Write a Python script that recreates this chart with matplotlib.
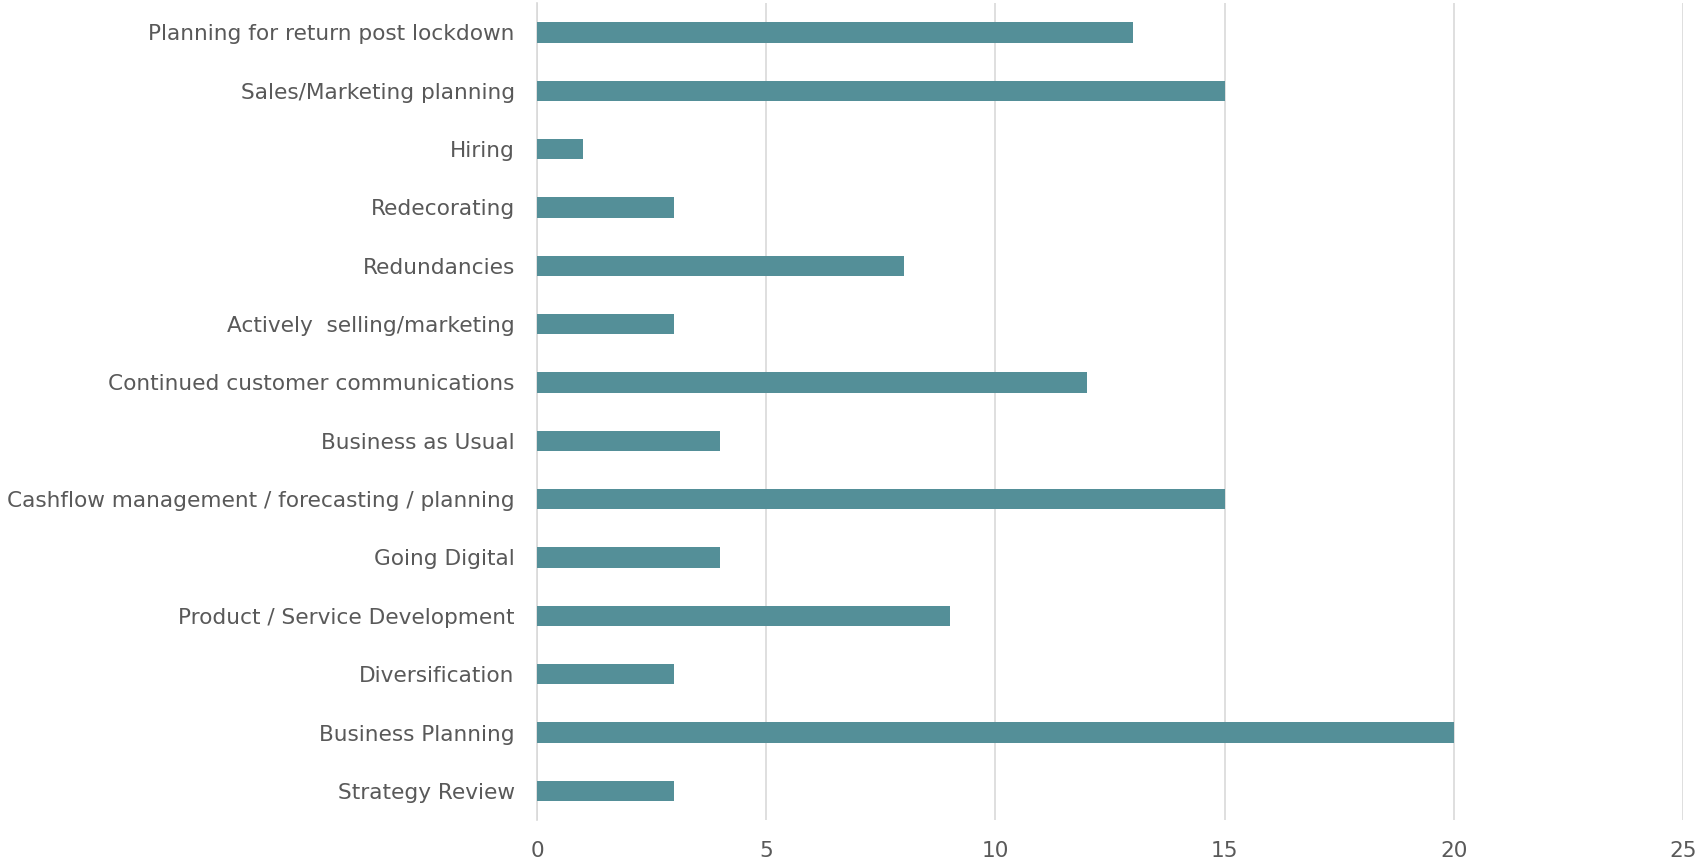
import matplotlib
matplotlib.use('Agg')
import matplotlib.pyplot as plt

# categories from bottom to top, as matplotlib draws barh upwards
categories = [
    'Strategy Review',
    'Business Planning',
    'Diversification',
    'Product / Service Development',
    'Going Digital',
    'Cashflow management / forecasting / planning',
    'Business as Usual',
    'Continued customer communications',
    'Actively  selling/marketing',
    'Redundancies',
    'Redecorating',
    'Hiring',
    'Sales/Marketing planning',
    'Planning for return post lockdown',
]
counts = [3, 20, 3, 9, 4, 15, 4, 12, 3, 8, 3, 1, 15, 13]
x_ticks = [0, 5, 10, 15, 20, 25]

bar_color = '#548f98'
text_color = '#595959'
grid_color = '#d9d9d9'

fig = plt.figure(figsize=(16.96, 8.65), dpi=100)
ax = fig.add_axes([0.3166, 0.052, 0.9923 - 0.3166, 0.9963 - 0.052])

ax.barh(range(len(categories)), counts, height=0.35, color=bar_color, zorder=3)

ax.set_xlim(0, 25)
ax.set_ylim(-0.5, len(categories) - 0.5)
ax.set_xticks(x_ticks)
ax.set_yticks(range(len(categories)))
ax.set_yticklabels(categories)

ax.grid(axis='x', color=grid_color, linewidth=1.2, zorder=0)
for side in ['top', 'right', 'bottom']:
    ax.spines[side].set_visible(False)
ax.spines['left'].set_color(grid_color)
ax.spines['left'].set_linewidth(1.2)

ax.tick_params(axis='both', length=0, labelsize=15.6, colors=text_color)
ax.tick_params(axis='y', pad=16)
ax.tick_params(axis='x', pad=15)

fig.savefig('out.png', dpi=100)
